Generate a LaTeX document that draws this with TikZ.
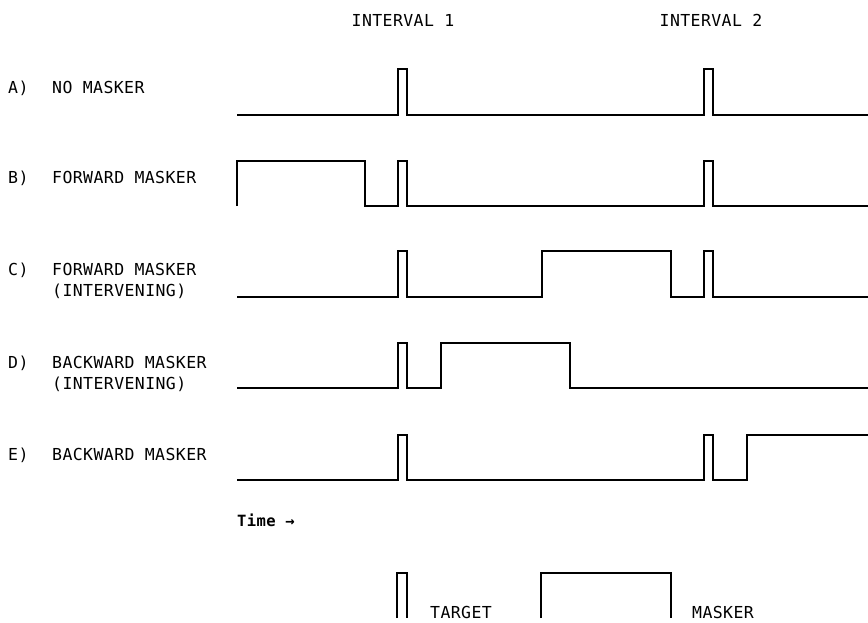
\documentclass[tikz,border=0pt]{standalone}
\usepackage{fontspec}
\newfontfamily\plotfont[LetterSpace=2.5]{DejaVu Sans Mono}
\begin{document}
\begin{tikzpicture}[x=1pt,y=-1pt,
  wave/.style={line width=1.5pt, line join=miter},
  lbl/.style={anchor=base west, inner sep=0pt, font=\plotfont\fontsize{16.5}{18}\selectfont},
  ctr/.style={anchor=base, inner sep=0pt, font=\plotfont\fontsize{16.5}{18}\selectfont}]
\useasboundingbox (0,0) rectangle (868,622);
% headings
\node[ctr] (int1) at (403,26) {INTERVAL 1};
\node[ctr] (int2) at (711,26) {INTERVAL 2};
% row labels
\node[lbl] (la) at (8,93) {A)};
\node[lbl] (ta) at (52,93) {NO MASKER};
\node[lbl] (lb) at (8,183) {B)};
\node[lbl] (tb) at (52,183) {FORWARD MASKER};
\node[lbl] (lc) at (8,275) {C)};
\node[lbl] (tc) at (52,275) {FORWARD MASKER};
\node[lbl] (tc2) at (52,296) {(INTERVENING)};
\node[lbl] (ld) at (8,368) {D)};
\node[lbl] (td) at (52,368) {BACKWARD MASKER};
\node[lbl] (td2) at (52,389) {(INTERVENING)};
\node[lbl] (le) at (8,460) {E)};
\node[lbl] (te) at (52,460) {BACKWARD MASKER};
% waveforms
\draw[wave] (237,115) -- (398,115) -- (398,69) -- (407,69) -- (407,115) -- (704,115) -- (704,69) -- (713,69) -- (713,115) -- (868,115);
\draw[wave] (237,206) -- (237,161) -- (365,161) -- (365,206) -- (398,206) -- (398,161) -- (407,161) -- (407,206) -- (704,206) -- (704,161) -- (713,161) -- (713,206) -- (868,206);
\draw[wave] (237,297) -- (398,297) -- (398,251) -- (407,251) -- (407,297) -- (542,297) -- (542,251) -- (671,251) -- (671,297) -- (704,297) -- (704,251) -- (713,251) -- (713,297) -- (868,297);
\draw[wave] (237,388) -- (398,388) -- (398,343) -- (407,343) -- (407,388) -- (441,388) -- (441,343) -- (570,343) -- (570,388) -- (868,388);
\draw[wave] (237,480) -- (398,480) -- (398,435) -- (407,435) -- (407,480) -- (704,480) -- (704,435) -- (713,435) -- (713,480) -- (747,480) -- (747,435) -- (868,435);
% time
\node[anchor=base west, inner sep=0pt, font=\plotfont\bfseries\fontsize{15.5}{17}\selectfont] (time) at (237,526) {Time →};
% legend
\draw[wave] (397,618) -- (397,573) -- (407,573) -- (407,618);
\node[lbl] (target) at (430,618) {TARGET};
\draw[wave] (541,618) -- (541,573) -- (671,573) -- (671,618);
\node[lbl] (masker) at (692,618) {MASKER};
\end{tikzpicture}
\end{document}
